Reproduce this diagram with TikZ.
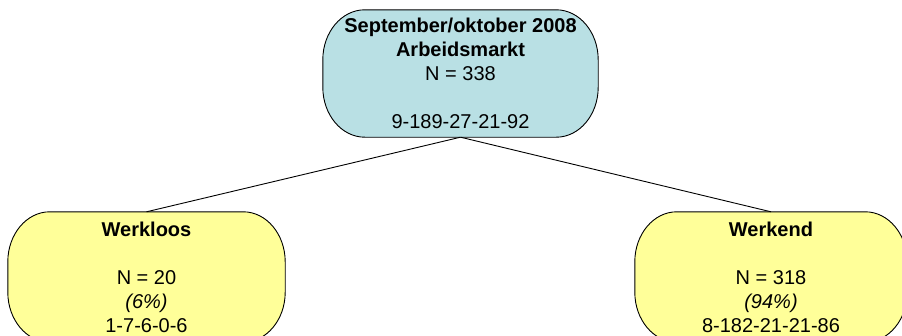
\documentclass[tikz,border=0pt]{standalone}
\usepackage{fontspec}
\setmainfont{Liberation Sans}
\usetikzlibrary{calc,backgrounds}
\definecolor{topfill}{HTML}{B9E0E4}
\definecolor{leaffill}{HTML}{FFFF99}
\newcommand{\pillshape}[2]{%
  \draw[line width=0.9pt, fill=#2]
    ($(#1.north west)+(42,0)$) arc[start angle=90,end angle=180,x radius=42pt,y radius=50pt]
    -- ($(#1.south west)+(0,-50)$) arc[start angle=180,end angle=270,x radius=42pt,y radius=50pt]
    -- ($(#1.south east)+(-42,0)$) arc[start angle=270,end angle=360,x radius=42pt,y radius=50pt]
    -- ($(#1.north east)+(0,50)$) arc[start angle=0,end angle=90,x radius=42pt,y radius=50pt]
    -- cycle;}
\begin{document}
\begin{tikzpicture}[x=1pt,y=-1pt,
  treebox/.style={minimum width=274pt, minimum height=127pt, inner sep=0pt,
    align=center, font=\fontsize{20}{24}\selectfont},
  edge/.style={draw=black, line width=0.9pt}]
\useasboundingbox (0,0) rectangle (902,335);
\node[treebox, minimum width=275pt] (root) at (460.5,73.5)
  {\textbf{September/oktober 2008}\\ \textbf{Arbeidsmarkt}\\ N = 338\\ \mbox{}\\ 9-189-27-21-92};
\node[treebox, minimum width=277pt, minimum height=130pt] (left) at (146.5,277)
  {\textbf{Werkloos}\\ \mbox{}\\ N = 20\\ \textit{(6\%)}\\ 1-7-6-0-6};
\node[treebox, minimum width=272pt, minimum height=130pt] (right) at (771,277)
  {\textbf{Werkend}\\ \mbox{}\\ N = 318\\ \textit{(94\%)}\\ 8-182-21-21-86};
\begin{scope}[on background layer]
  \pillshape{root}{topfill}
  \pillshape{left}{leaffill}
  \pillshape{right}{leaffill}
  \draw[edge] (root.south) -- (left.north);
  \draw[edge] (root.south) -- (right.north);
\end{scope}
\end{tikzpicture}
\end{document}
